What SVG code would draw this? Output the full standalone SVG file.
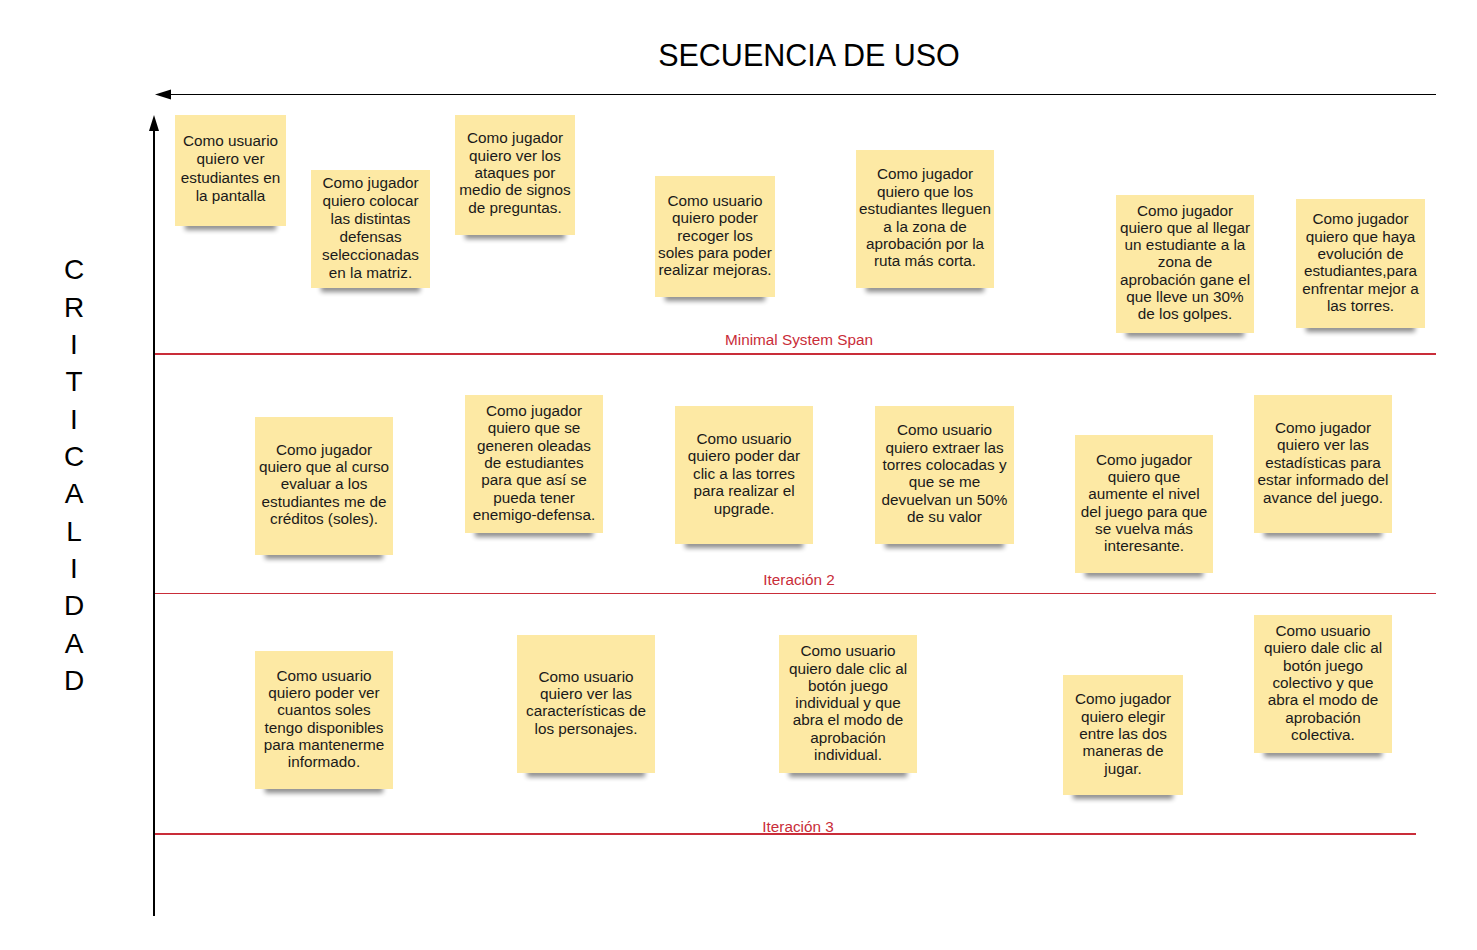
<svg xmlns="http://www.w3.org/2000/svg" width="1477" height="950" viewBox="0 0 1477 950">
<style>
.note{fill:#FDE9A4}
.sh{fill:#000;opacity:.45;filter:url(#blur)}
.nt{font-family:"Liberation Sans",Arial,sans-serif;font-size:15.3px;fill:#1a1a1a;text-anchor:middle}
.lbl{font-family:"Liberation Sans",Arial,sans-serif;font-size:15.3px;fill:#C92D39;text-anchor:middle}
.ax{stroke:#000;fill:none}
.red{stroke:#C92D39;fill:none}
.big{font-family:"Liberation Sans",Arial,sans-serif;fill:#000;text-anchor:middle}
.head{fill:#000}
</style>
<defs>
<filter id="blur" x="-20%" y="-100%" width="140%" height="300%"><feGaussianBlur stdDeviation="2.8"/></filter>
</defs>
<rect width="1477" height="950" fill="#fff"/>
<text class="big" x="809" y="66" font-size="30.5">SECUENCIA DE USO</text>
<g id="criticalidad" class="big" font-size="28">
<text x="74" y="279">C</text><text x="74" y="317">R</text><text x="74" y="354">I</text><text x="74" y="391">T</text><text x="74" y="429">I</text><text x="74" y="466">C</text><text x="74" y="503">A</text><text x="74" y="541">L</text><text x="74" y="578">I</text><text x="74" y="615">D</text><text x="74" y="653">A</text><text x="74" y="690">D</text>
</g>
<g id="connectors">
<line class="ax" x1="1436" y1="94.5" x2="168" y2="94.5" stroke-width="1.2"/>
<path class="head" d="M155,94.5 L171,89.5 L171,99.5 z"/>
<line class="ax" x1="154" y1="916" x2="154" y2="128" stroke-width="2"/>
<path class="head" d="M154,115 L159,131 L149,131 z"/>
<line class="red" x1="155" y1="354" x2="1436" y2="354" stroke-width="2"/>
<line class="red" x1="155" y1="593.5" x2="1436" y2="593.5" stroke-width="1.2"/>
<line class="red" x1="155" y1="834" x2="1416" y2="834" stroke-width="2"/>
</g>
<text class="lbl" x="799" y="345">Minimal System Span</text>
<text class="lbl" x="799" y="585">Iteración 2</text>
<text class="lbl" x="798" y="832">Iteración 3</text>

<g id="n1"><rect class="sh" x="185" y="222" width="91" height="8"/><rect class="note" x="175" y="115" width="111" height="111"/>
<text class="nt"><tspan x="230.5" y="145.5">Como usuario</tspan><tspan x="230.5" y="164">quiero ver</tspan><tspan x="230.5" y="182.5">estudiantes en</tspan><tspan x="230.5" y="201">la pantalla</tspan></text></g>
<g id="n2"><rect class="sh" x="321" y="284" width="99" height="8"/><rect class="note" x="311" y="170" width="119" height="118"/>
<text class="nt"><tspan x="370.5" y="187.5">Como jugador</tspan><tspan x="370.5" y="205.5">quiero colocar</tspan><tspan x="370.5" y="223.5">las distintas</tspan><tspan x="370.5" y="241.5">defensas</tspan><tspan x="370.5" y="259.5">seleccionadas</tspan><tspan x="370.5" y="277.5">en la matriz.</tspan></text></g>
<g id="n3"><rect class="sh" x="465" y="231" width="100" height="8"/><rect class="note" x="455" y="115" width="120" height="120"/>
<text class="nt"><tspan x="515" y="142.5">Como jugador</tspan><tspan x="515" y="160.5">quiero ver los</tspan><tspan x="515" y="177.5">ataques por</tspan><tspan x="515" y="194.5">medio de signos</tspan><tspan x="515" y="212.5">de preguntas.</tspan></text></g>
<g id="n4"><rect class="sh" x="665" y="293" width="100" height="8"/><rect class="note" x="655" y="176" width="120" height="121"/>
<text class="nt"><tspan x="715" y="205.5">Como usuario</tspan><tspan x="715" y="222.5">quiero poder</tspan><tspan x="715" y="240.5">recoger los</tspan><tspan x="715" y="257.5">soles para poder</tspan><tspan x="715" y="274.5">realizar mejoras.</tspan></text></g>
<g id="n5"><rect class="sh" x="866" y="284" width="118" height="8"/><rect class="note" x="856" y="150" width="138" height="138"/>
<text class="nt"><tspan x="925" y="178.5">Como jugador</tspan><tspan x="925" y="196.5">quiero que los</tspan><tspan x="925" y="213.5">estudiantes lleguen</tspan><tspan x="925" y="231.5">a la zona de</tspan><tspan x="925" y="248.5">aprobación por la</tspan><tspan x="925" y="265.5">ruta más corta.</tspan></text></g>
<g id="n6"><rect class="sh" x="1126" y="329" width="118" height="8"/><rect class="note" x="1116" y="195" width="138" height="138"/>
<text class="nt"><tspan x="1185" y="215.5">Como jugador</tspan><tspan x="1185" y="232.5">quiero que al llegar</tspan><tspan x="1185" y="249.5">un estudiante a la</tspan><tspan x="1185" y="266.5">zona de</tspan><tspan x="1185" y="284.5">aprobación gane el</tspan><tspan x="1185" y="301.5">que lleve un 30%</tspan><tspan x="1185" y="318.5">de los golpes.</tspan></text></g>
<g id="n7"><rect class="sh" x="1306" y="324" width="109" height="8"/><rect class="note" x="1296" y="199" width="129" height="129"/>
<text class="nt"><tspan x="1360.5" y="223.5">Como jugador</tspan><tspan x="1360.5" y="241.5">quiero que haya</tspan><tspan x="1360.5" y="258.5">evolución de</tspan><tspan x="1360.5" y="275.5">estudiantes,para</tspan><tspan x="1360.5" y="293.5">enfrentar mejor a</tspan><tspan x="1360.5" y="310.5">las torres.</tspan></text></g>

<g id="n8"><rect class="sh" x="265" y="551" width="118" height="8"/><rect class="note" x="255" y="417" width="138" height="138"/>
<text class="nt"><tspan x="324" y="454.5">Como jugador</tspan><tspan x="324" y="471.5">quiero que al curso</tspan><tspan x="324" y="488.5">evaluar a los</tspan><tspan x="324" y="506.5">estudiantes me de</tspan><tspan x="324" y="523.5">créditos (soles).</tspan></text></g>
<g id="n9"><rect class="sh" x="475" y="529" width="118" height="8"/><rect class="note" x="465" y="395" width="138" height="138"/>
<text class="nt"><tspan x="534" y="415.5">Como jugador</tspan><tspan x="534" y="432.5">quiero que se</tspan><tspan x="534" y="450.5">generen oleadas</tspan><tspan x="534" y="467.5">de estudiantes</tspan><tspan x="534" y="484.5">para que así se</tspan><tspan x="534" y="502.5">pueda tener</tspan><tspan x="534" y="519.5">enemigo-defensa.</tspan></text></g>
<g id="n10"><rect class="sh" x="685" y="540" width="118" height="8"/><rect class="note" x="675" y="406" width="138" height="138"/>
<text class="nt"><tspan x="744" y="443.5">Como usuario</tspan><tspan x="744" y="460.5">quiero poder dar</tspan><tspan x="744" y="478.5">clic a las torres</tspan><tspan x="744" y="495.5">para realizar el</tspan><tspan x="744" y="513.5">upgrade.</tspan></text></g>
<g id="n11"><rect class="sh" x="885" y="540" width="119" height="8"/><rect class="note" x="875" y="406" width="139" height="138"/>
<text class="nt"><tspan x="944.5" y="434.5">Como usuario</tspan><tspan x="944.5" y="452.5">quiero extraer las</tspan><tspan x="944.5" y="469.5">torres colocadas y</tspan><tspan x="944.5" y="486.5">que se me</tspan><tspan x="944.5" y="504.5">devuelvan un 50%</tspan><tspan x="944.5" y="521.5">de su valor</tspan></text></g>
<g id="n12"><rect class="sh" x="1085" y="569" width="118" height="8"/><rect class="note" x="1075" y="435" width="138" height="138"/>
<text class="nt"><tspan x="1144" y="464.5">Como jugador</tspan><tspan x="1144" y="481.5">quiero que</tspan><tspan x="1144" y="498.5">aumente el nivel</tspan><tspan x="1144" y="516.5">del juego para que</tspan><tspan x="1144" y="533.5">se vuelva más</tspan><tspan x="1144" y="550.5">interesante.</tspan></text></g>
<g id="n13"><rect class="sh" x="1264" y="529" width="118" height="8"/><rect class="note" x="1254" y="395" width="138" height="138"/>
<text class="nt"><tspan x="1323" y="432.5">Como jugador</tspan><tspan x="1323" y="449.5">quiero ver las</tspan><tspan x="1323" y="467.5">estadísticas para</tspan><tspan x="1323" y="484.5">estar informado del</tspan><tspan x="1323" y="502.5">avance del juego.</tspan></text></g>

<g id="n14"><rect class="sh" x="265" y="785" width="118" height="8"/><rect class="note" x="255" y="651" width="138" height="138"/>
<text class="nt"><tspan x="324" y="680.5">Como usuario</tspan><tspan x="324" y="697.5">quiero poder ver</tspan><tspan x="324" y="714.5">cuantos soles</tspan><tspan x="324" y="732.5">tengo disponibles</tspan><tspan x="324" y="749.5">para mantenerme</tspan><tspan x="324" y="766.5">informado.</tspan></text></g>
<g id="n15"><rect class="sh" x="527" y="769" width="118" height="8"/><rect class="note" x="517" y="635" width="138" height="138"/>
<text class="nt"><tspan x="586" y="681.5">Como usuario</tspan><tspan x="586" y="698.5">quiero ver las</tspan><tspan x="586" y="715.5">características de</tspan><tspan x="586" y="733.5">los personajes.</tspan></text></g>
<g id="n16"><rect class="sh" x="789" y="769" width="118" height="8"/><rect class="note" x="779" y="635" width="138" height="138"/>
<text class="nt"><tspan x="848" y="655.5">Como usuario</tspan><tspan x="848" y="673.5">quiero dale clic al</tspan><tspan x="848" y="690.5">botón juego</tspan><tspan x="848" y="707.5">individual y que</tspan><tspan x="848" y="724.5">abra el modo de</tspan><tspan x="848" y="742.5">aprobación</tspan><tspan x="848" y="759.5">individual.</tspan></text></g>
<g id="n17"><rect class="sh" x="1073" y="791" width="100" height="8"/><rect class="note" x="1063" y="675" width="120" height="120"/>
<text class="nt"><tspan x="1123" y="703.5">Como jugador</tspan><tspan x="1123" y="721.5">quiero elegir</tspan><tspan x="1123" y="738.5">entre las dos</tspan><tspan x="1123" y="755.5">maneras de</tspan><tspan x="1123" y="773.5">jugar.</tspan></text></g>
<g id="n18"><rect class="sh" x="1264" y="749" width="118" height="8"/><rect class="note" x="1254" y="615" width="138" height="138"/>
<text class="nt"><tspan x="1323" y="635.5">Como usuario</tspan><tspan x="1323" y="652.5">quiero dale clic al</tspan><tspan x="1323" y="670.5">botón juego</tspan><tspan x="1323" y="687.5">colectivo y que</tspan><tspan x="1323" y="704.5">abra el modo de</tspan><tspan x="1323" y="722.5">aprobación</tspan><tspan x="1323" y="739.5">colectiva.</tspan></text></g>
</svg>
